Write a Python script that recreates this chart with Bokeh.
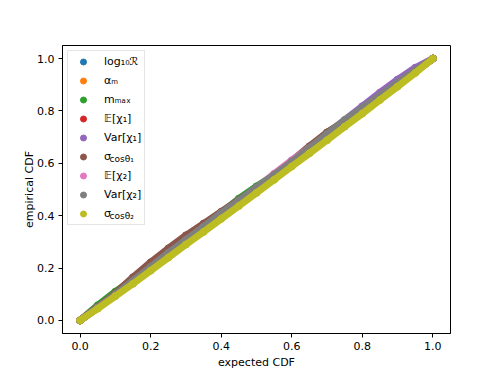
from bokeh.plotting import figure
from bokeh.models import Range1d, FixedTicker, PrintfTickFormatter, Legend, LegendItem, Label
from bokeh.embed import file_html
from bokeh.resources import INLINE

expected_cdf = [0.00, 0.05, 0.10, 0.15, 0.20, 0.25, 0.30, 0.35, 0.40, 0.45, 0.50,
                0.55, 0.60, 0.65, 0.70, 0.75, 0.80, 0.85, 0.90, 0.95, 1.00]

log10_R = [0.000, 0.048, 0.097, 0.150, 0.203, 0.252, 0.300, 0.352, 0.402, 0.451, 0.503,
           0.552, 0.600, 0.652, 0.703, 0.752, 0.801, 0.852, 0.903, 0.951, 1.000]
alpha_m = [0.000, 0.051, 0.102, 0.151, 0.199, 0.248, 0.302, 0.349, 0.401, 0.453, 0.499,
           0.551, 0.603, 0.648, 0.702, 0.750, 0.798, 0.849, 0.899, 0.952, 1.000]
m_max = [0.000, 0.058, 0.110, 0.157, 0.205, 0.256, 0.305, 0.355, 0.410, 0.465, 0.512,
         0.556, 0.605, 0.660, 0.717, 0.760, 0.805, 0.850, 0.902, 0.950, 1.000]
E_chi1 = [0.000, 0.050, 0.095, 0.148, 0.208, 0.262, 0.303, 0.350, 0.405, 0.452, 0.500,
          0.548, 0.600, 0.650, 0.701, 0.752, 0.800, 0.850, 0.900, 0.950, 1.000]
Var_chi1 = [0.000, 0.052, 0.100, 0.150, 0.202, 0.250, 0.302, 0.352, 0.405, 0.455, 0.505,
            0.556, 0.608, 0.660, 0.712, 0.765, 0.818, 0.870, 0.920, 0.965, 1.000]
sigma_cos1 = [0.000, 0.052, 0.104, 0.165, 0.222, 0.275, 0.325, 0.370, 0.415, 0.460, 0.505,
              0.555, 0.610, 0.665, 0.718, 0.762, 0.808, 0.855, 0.905, 0.952, 1.000]
E_chi2 = [0.000, 0.048, 0.096, 0.145, 0.197, 0.252, 0.303, 0.352, 0.400, 0.448, 0.505,
          0.560, 0.612, 0.658, 0.705, 0.753, 0.805, 0.852, 0.902, 0.950, 1.000]
Var_chi2 = [0.000, 0.050, 0.100, 0.152, 0.205, 0.258, 0.308, 0.358, 0.410, 0.458, 0.508,
            0.556, 0.606, 0.658, 0.712, 0.765, 0.812, 0.860, 0.908, 0.955, 1.000]
sigma_cos2 = [0.000, 0.045, 0.093, 0.140, 0.190, 0.240, 0.290, 0.338, 0.388, 0.437, 0.487,
              0.537, 0.588, 0.638, 0.688, 0.740, 0.790, 0.842, 0.893, 0.945, 1.000]

series = [log10_R, alpha_m, m_max, E_chi1, Var_chi1, sigma_cos1, E_chi2, Var_chi2, sigma_cos2]
labels = ["log\u2081\u2080\u211b", "\u03b1\u2098", "m\u2098\u2090\u2093", "\U0001D53C[\u03c7\u2081]",
          "Var[\u03c7\u2081]", "\u03c3", "\U0001D53C[\u03c7\u2082]", "Var[\u03c7\u2082]", "\u03c3"]
colors = ["#1f77b4", "#ff7f0e", "#2ca02c", "#d62728", "#9467bd",
          "#8c564b", "#e377c2", "#7f7f7f", "#bcbd22"]
ticks = [0.0, 0.2, 0.4, 0.6, 0.8, 1.0]

FONT = "DejaVu Sans"

p = figure(width=500, height=375, output_backend="svg", toolbar_location=None,
           x_range=Range1d(-0.05, 1.05), y_range=Range1d(-0.05, 1.05),
           min_border_left=62, min_border_right=50, min_border_top=45, min_border_bottom=42,
           x_axis_label="expected CDF", y_axis_label="empirical CDF")
p.background_fill_color = "white"
p.border_fill_color = "white"
p.outline_line_color = "black"
p.outline_line_width = 1
p.xgrid.visible = False
p.ygrid.visible = False

for ax in (p.xaxis[0], p.yaxis[0]):
    ax.ticker = FixedTicker(ticks=ticks)
    ax.formatter = PrintfTickFormatter(format="%.1f")
    ax.axis_line_color = "black"
    ax.major_tick_line_color = "black"
    ax.major_tick_in = 0
    ax.major_tick_out = 4
    ax.minor_tick_line_color = None
    ax.major_label_text_font = FONT
    ax.major_label_text_font_size = "11px"
    ax.major_label_text_color = "black"
    ax.major_label_standoff = 4
    ax.axis_label_text_font = FONT
    ax.axis_label_text_font_size = "11px"
    ax.axis_label_text_font_style = "normal"
    ax.axis_label_text_color = "black"
p.xaxis[0].axis_label_standoff = 3
p.yaxis[0].axis_label_standoff = -2

items = []
for ys, lab, col in zip(series, labels, colors):
    p.line(expected_cdf, ys, line_width=7, line_color=col, line_cap="round", line_join="round")
    r = p.scatter(expected_cdf, ys, size=7, fill_color=col, line_color=col)
    items.append(LegendItem(label=lab, renderers=[r]))

legend = Legend(items=items, location="top_left", margin=5, padding=3, spacing=4,
                glyph_width=24, glyph_height=15, label_height=15, label_standoff=9,
                label_text_font=FONT, label_text_font_size="11px", label_text_color="black",
                border_line_color="#cccccc", border_line_width=1,
                background_fill_color="white", background_fill_alpha=0.0)
p.add_layout(legend)

for yy, sub in ((175, "cos\u03b8\u2081"), (118, "cos\u03b8\u2082")):
    p.add_layout(Label(x=47, y=yy, x_units="screen", y_units="screen", text=sub,
                       text_font=FONT, text_font_size="9px", text_baseline="middle",
                       text_color="black", level="overlay"))

open("out.html", "w").write(file_html(p, INLINE))
